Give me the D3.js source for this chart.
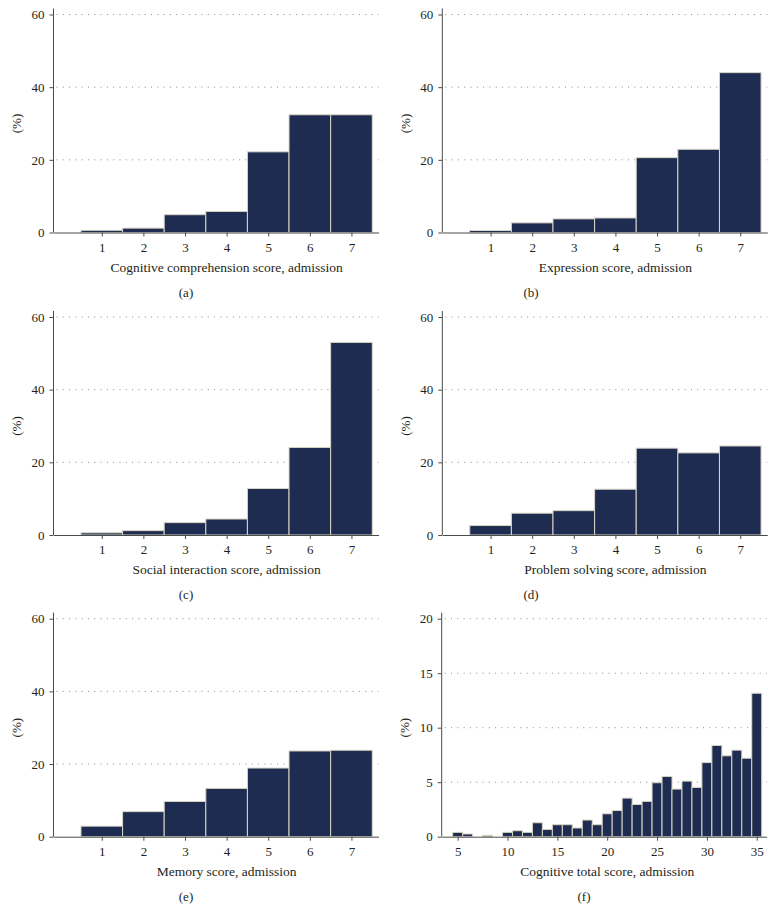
<!DOCTYPE html>
<html>
<head>
<meta charset="utf-8">
<script src="https://cdn.jsdelivr.net/npm/d3@7"></script>
<style>
  body { margin: 0; background: #fff; }
  svg text { font-family: "Liberation Serif", "DejaVu Serif", serif; fill: #231f20; }
</style>
</head>
<body>
<svg id="chart" width="776" height="912"></svg>
<script>
'use strict';

// item scores 1..7, percent of patients
const itemScores = [1, 2, 3, 4, 5, 6, 7];
const comprehension = [0.6, 1.2, 4.9, 5.8, 22.2, 32.4, 32.4];
const expression = [0.55, 2.65, 3.75, 4.0, 20.6, 22.9, 44.0];
const socialInteraction = [0.6, 1.2, 3.4, 4.4, 12.8, 24.1, 53.0];
const problemSolving = [2.6, 6.0, 6.7, 12.6, 23.9, 22.6, 24.5];
const memory = [2.9, 6.9, 9.7, 13.3, 18.9, 23.6, 23.8];

// cognitive total score 5..35
const totalScores = [5, 6, 7, 8, 9, 10, 11, 12, 13, 14, 15, 16, 17, 18, 19, 20,
  21, 22, 23, 24, 25, 26, 27, 28, 29, 30, 31, 32, 33, 34, 35];
const totalPercent = [0.4, 0.25, 0, 0.12, 0, 0.4, 0.55, 0.4, 1.28, 0.67, 1.1, 1.1,
  0.8, 1.53, 1.1, 2.1, 2.4, 3.54, 2.96, 3.24, 4.95, 5.53, 4.37, 5.1, 4.52, 6.8,
  8.37, 7.42, 7.94, 7.2, 13.16];

const itemYTicks = [0, 20, 40, 60];
const totalYTicks = [0, 5, 10, 15, 20];
const totalXTicks = [5, 10, 15, 20, 25, 30, 35];

const titles = [
  'Cognitive comprehension score, admission',
  'Expression score, admission',
  'Social interaction score, admission',
  'Problem solving score, admission',
  'Memory score, admission',
  'Cognitive total score, admission'
];
const panelLabels = ['(a)', '(b)', '(c)', '(d)', '(e)', '(f)'];

const svg = d3.select('#chart');
const plotH = 218;
const plotW = 325;

function drawPanel(p) {
  const g = svg.append('g');
  const x = d3.scaleLinear().domain(p.xDomain).range([p.left, p.left + plotW]);
  const y = d3.scaleLinear().domain([0, p.yMax]).range([p.origin, p.origin - plotH]);

  // dotted grid
  g.selectAll('line.grid')
    .data(p.yTicks.filter((d) => d > 0))
    .enter()
    .append('line')
    .attr('class', 'grid')
    .attr('x1', p.left + 3)
    .attr('x2', p.left + plotW)
    .attr('y1', (d) => y(d))
    .attr('y2', (d) => y(d))
    .attr('stroke', '#8a8a8a')
    .attr('stroke-width', 1)
    .attr('stroke-dasharray', '1,5.3');

  // bars
  const data = p.cats.map((c, i) => ({cat: c, val: p.values[i]})).filter((d) => d.val > 0);
  g.selectAll('rect.bar')
    .data(data)
    .enter()
    .append('rect')
    .attr('class', 'bar')
    .attr('x', (d) => x(d.cat - 0.5))
    .attr('width', (d) => x(d.cat + 0.5) - x(d.cat - 0.5))
    .attr('y', (d) => y(d.val))
    .attr('height', (d) => y(0) - y(d.val))
    .attr('fill', '#1f2c51')
    .attr('stroke', '#d9d6c6')
    .attr('stroke-width', 1);

  // y axis
  const yAxis = g.append('g')
    .attr('transform', 'translate(' + p.left + ',0)')
    .call(d3.axisLeft(y).tickValues(p.yTicks).tickSize(4).tickSizeOuter(0).tickPadding(5));
  yAxis.select('.domain').remove();
  yAxis.append('line')
    .attr('y1', y(0))
    .attr('y2', y(p.yMax) - 6)
    .attr('stroke', '#4a4a4a');
  yAxis.selectAll('.tick line').attr('stroke', '#4a4a4a');
  yAxis.selectAll('text').style('font-size', '13px');

  // x axis
  const xAxis = g.append('g')
    .attr('transform', 'translate(0,' + p.origin + ')')
    .call(d3.axisBottom(x).tickValues(p.xTicks).tickSize(4).tickSizeOuter(0).tickPadding(6));
  xAxis.select('.domain').attr('stroke', '#4a4a4a');
  xAxis.selectAll('.tick line').attr('stroke', '#4a4a4a');
  xAxis.selectAll('text').style('font-size', '13px');

  // titles
  const mid = (p.cats[0] + p.cats[p.cats.length - 1]) / 2;
  g.append('text')
    .attr('x', x(mid))
    .attr('y', p.origin + 39)
    .attr('text-anchor', 'middle')
    .style('font-size', '13.5px')
    .text(p.title);

  g.append('text')
    .attr('transform', 'translate(' + (p.left - 37) + ',' + (p.origin - plotH / 2) + ') rotate(-90)')
    .attr('text-anchor', 'middle')
    .attr('dy', '0.35em')
    .style('font-size', '13px')
    .text('(%)');

  g.append('text')
    .attr('x', p.labelX)
    .attr('y', p.origin + 64)
    .attr('text-anchor', 'middle')
    .style('font-size', '13px')
    .text(p.label);
}

const leftAxis = 53.5;
const rightAxis = 442.3;
const rowOrigins = [232.5, 535, 836.7];
const itemDomain = [-0.16, 7.65];
const itemSeries = [comprehension, expression, socialInteraction, problemSolving, memory];

itemSeries.forEach((values, i) => {
  const col = i % 2;
  drawPanel({
    left: col === 0 ? leftAxis : rightAxis,
    origin: rowOrigins[Math.floor(i / 2)],
    cats: itemScores,
    values: values,
    xDomain: itemDomain,
    xTicks: itemScores,
    yMax: 60,
    yTicks: itemYTicks,
    title: titles[i],
    label: panelLabels[i],
    labelX: col === 0 ? 186 : 531
  });
});

drawPanel({
  left: 441.7,
  origin: rowOrigins[2],
  cats: totalScores,
  values: totalPercent,
  xDomain: [3.4, 36.0],
  xTicks: totalXTicks,
  yMax: 20,
  yTicks: totalYTicks,
  title: titles[5],
  label: panelLabels[5],
  labelX: 584
});
</script>
</body>
</html>
